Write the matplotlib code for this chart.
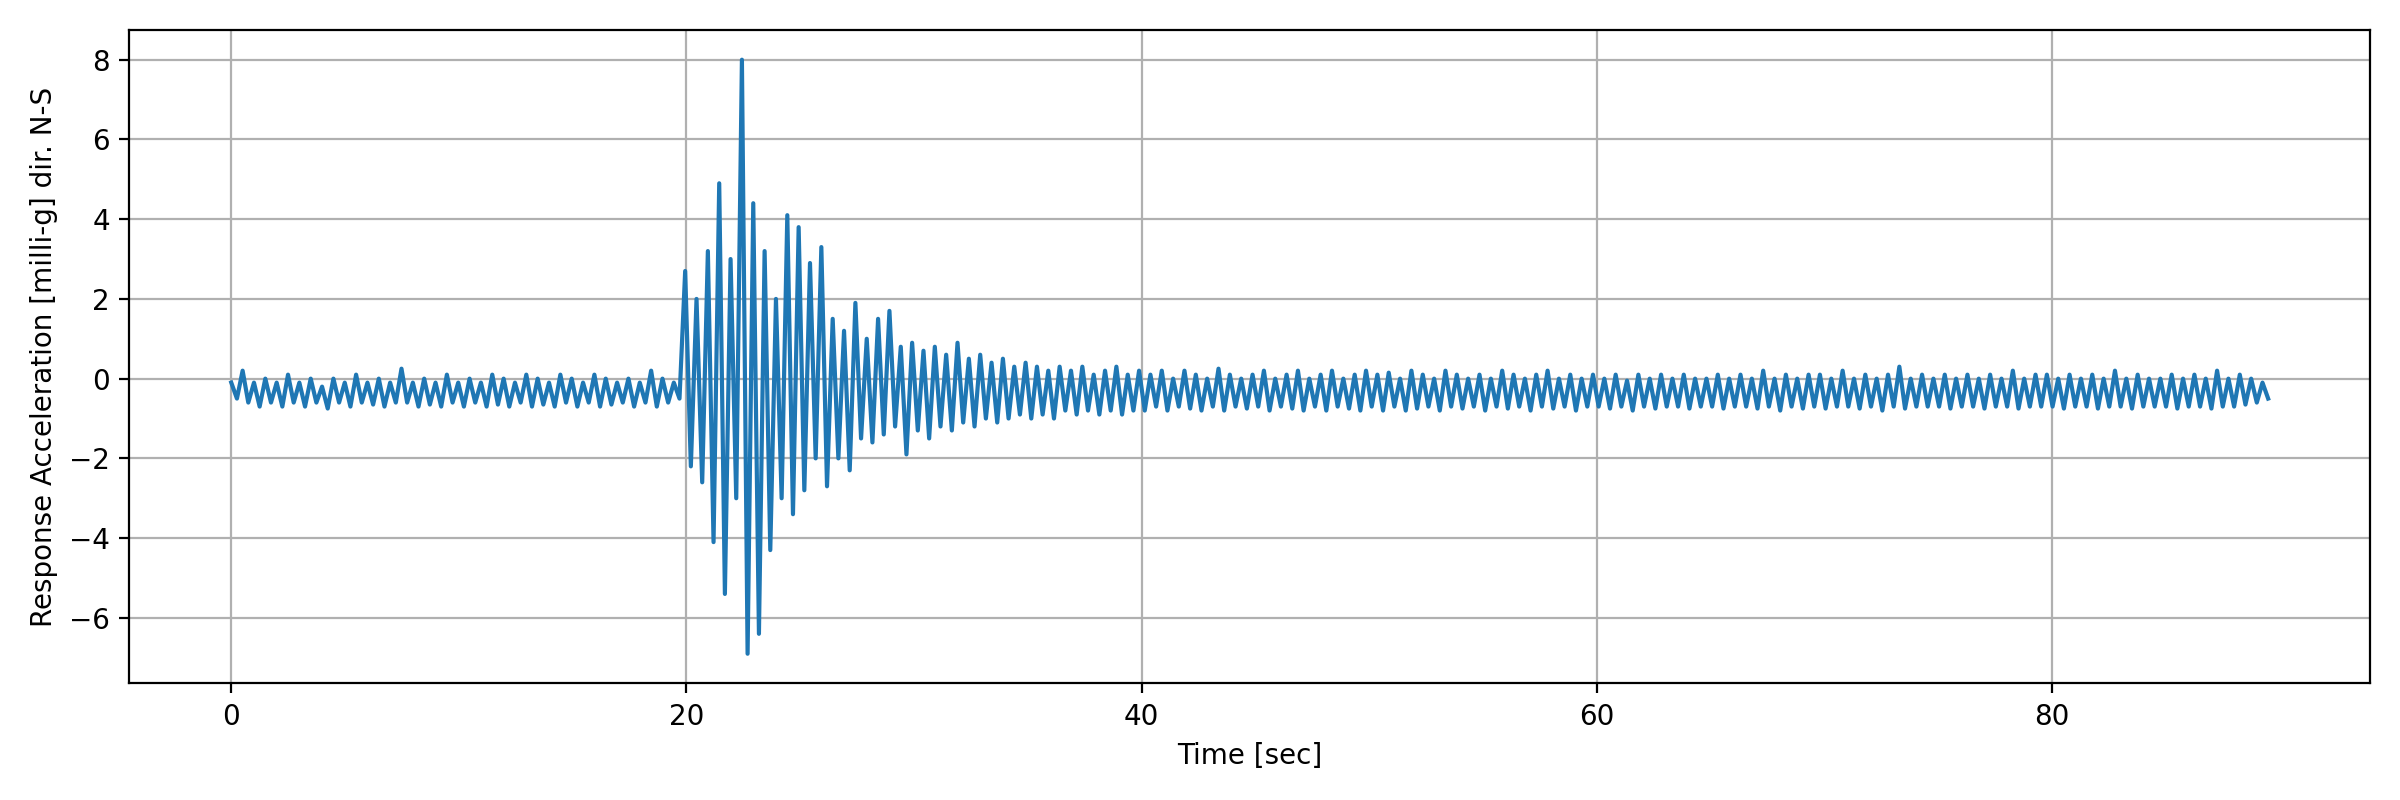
import numpy as np
import matplotlib
matplotlib.use("Agg")
import matplotlib.pyplot as plt

dt = 0.25
pre_event = [-0.1,-0.5,0.2,-0.6,-0.1,-0.7,0.0,-0.6,-0.1,-0.7,
 0.1,-0.6,-0.1,-0.7,0.0,-0.6,-0.2,-0.75,0.0,-0.6,
 -0.1,-0.7,0.1,-0.6,-0.1,-0.65,0.0,-0.7,-0.1,-0.6,
 0.25,-0.6,-0.1,-0.7,0.0,-0.65,-0.1,-0.7,0.1,-0.6,
 -0.1,-0.7,0.0,-0.6,-0.1,-0.7,0.1,-0.65,0.0,-0.7,
 -0.1,-0.6,0.1,-0.7,0.0,-0.65,-0.1,-0.7,0.1,-0.6,
 0.0,-0.7,-0.1,-0.6,0.1,-0.7,0.0,-0.65,-0.1,-0.6,
 0.0,-0.7,-0.1,-0.6,0.2,-0.7,0.0,-0.6,-0.1,-0.5]
strong = [2.7,-2.2,2.0,-2.6,3.2,-4.1,4.9,-5.4,3.0,-3.0,
 8.0,-6.9,4.4,-6.4,3.2,-4.3,2.0,-3.0,4.1,-3.4,
 3.8,-2.8,2.9,-2.0,3.3,-2.7,1.5,-2.0,1.2,-2.3,
 1.9,-1.5,1.0,-1.6,1.5,-1.4,1.7,-1.2,0.8,-1.9]
decay = [0.9,-1.3,0.7,-1.5,0.8,-1.2,0.6,-1.3,0.9,-1.1,
 0.5,-1.2,0.6,-1.0,0.4,-1.1,0.5,-1.0,0.3,-0.9,
 0.4,-1.0,0.3,-0.9,0.2,-1.0,0.3,-0.8,0.2,-0.9,
 0.3,-0.8,0.1,-0.9,0.2,-0.8,0.3,-0.9,0.1,-0.8]
post_event = [0.2,-0.8,0.1,-0.7,0.2,-0.8,0.0,-0.7,0.2,-0.75,0.1,-0.8,0.0,-0.7,0.25,-0.8,0.1,-0.7,0.0,-0.75,
 0.1,-0.7,0.2,-0.8,0.0,-0.7,0.1,-0.75,0.2,-0.8,0.0,-0.7,0.1,-0.8,0.2,-0.7,0.0,-0.75,0.1,-0.8,
 0.2,-0.7,0.1,-0.8,0.15,-0.7,0.0,-0.8,0.2,-0.75,0.1,-0.7,0.0,-0.8,0.2,-0.7,0.1,-0.75,0.0,-0.7,
 0.1,-0.8,0.0,-0.7,0.2,-0.75,0.1,-0.7,0.0,-0.8,0.1,-0.7,0.2,-0.75,0.0,-0.7,0.1,-0.8,0.0,-0.7,
 0.1,-0.7,0.0,-0.75,0.1,-0.7,-0.05,-0.8,0.1,-0.7,0.0,-0.75,0.1,-0.7,0.0,-0.7,0.1,-0.75,0.0,-0.7,
 0.0,-0.7,0.1,-0.75,0.0,-0.7,0.1,-0.7,0.0,-0.75,0.2,-0.7,0.0,-0.8,0.1,-0.7,0.0,-0.75,0.1,-0.7,
 0.1,-0.75,0.0,-0.7,0.2,-0.7,0.0,-0.75,0.1,-0.7,0.0,-0.8,0.1,-0.7,0.3,-0.75,0.0,-0.7,0.1,-0.7,
 0.0,-0.7,0.1,-0.75,0.0,-0.7,0.1,-0.7,0.0,-0.75,0.1,-0.7,0.0,-0.7,0.2,-0.75,0.0,-0.7,0.1,-0.7,
 0.1,-0.7,0.0,-0.75,0.1,-0.7,0.0,-0.7,0.1,-0.75,0.0,-0.7,0.2,-0.7,0.0,-0.75,0.1,-0.7,0.0,-0.7,
 0.0,-0.7,0.1,-0.75,0.0,-0.7,0.1,-0.7,0.0,-0.75,0.2,-0.7,0.0,-0.7,0.1,-0.65,0.0,-0.6,-0.1,-0.5]

acc = np.array(pre_event + strong + decay + post_event)
t = np.arange(len(acc)) * dt
t = t * (89.5 / t[-1])

fig, ax = plt.subplots(figsize=(12, 4), dpi=200)
ax.plot(t, acc, color="#1f77b4", lw=1.5)
ax.set_xlabel("Time [sec]")
ax.set_ylabel("Response Acceleration [milli-g] dir. N-S")
ax.grid(True)
fig.tight_layout()
fig.savefig("out.png")
